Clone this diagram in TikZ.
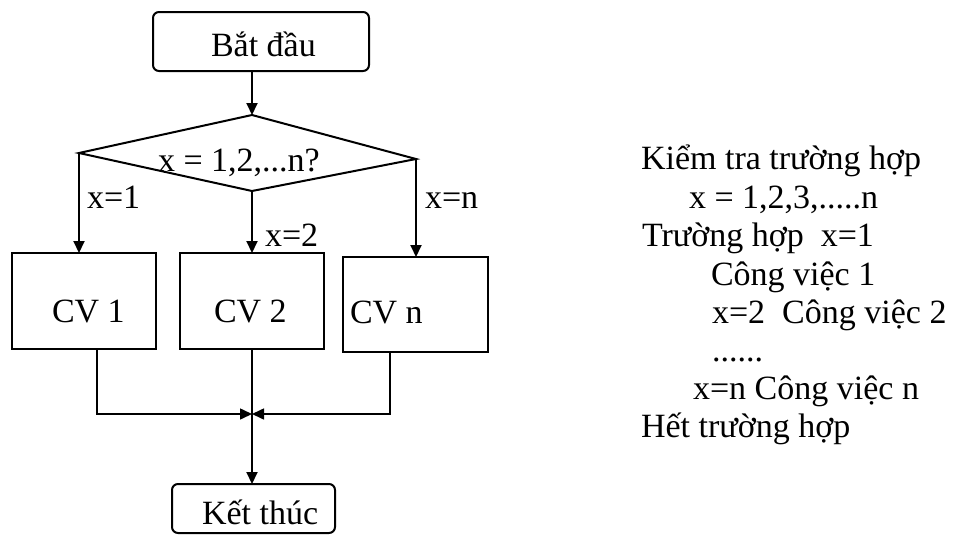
\documentclass[tikz,border=0pt]{standalone}
\usepackage{fontspec}
\setmainfont{Liberation Serif}
\usetikzlibrary{arrows.meta}
\begin{document}
\begin{tikzpicture}[x=1pt,y=-1pt,
  every node/.style={inner sep=0pt, outer sep=0pt, font=\fontsize{34}{40}\selectfont},
  termbox/.style={draw, line width=2pt, rounded corners=6pt},
  workbox/.style={draw, line width=2pt},
  conn/.style={line width=2pt, -{Triangle[length=12pt,width=11pt]}},
  joinline/.style={line width=1.6pt, -{Triangle[length=12pt,width=11pt]}},
  txt/.style={anchor=base west}]
\path[use as bounding box] (0,0) rectangle (954,536);

% terminal and process boxes
\node[termbox, minimum width=216pt, minimum height=59pt] (start) at (261,41.5) {};
\node[workbox, minimum width=144pt, minimum height=96pt] (cv1) at (84,301) {};
\node[workbox, minimum width=144pt, minimum height=96pt] (cv2) at (252,301) {};
\node[workbox, minimum width=145pt, minimum height=95pt] (cvn) at (415.5,304.5) {};
\node[termbox, minimum width=163pt, minimum height=49pt] (end) at (253.5,508.5) {};

% decision diamond
\coordinate (dt) at (252,115);
\coordinate (dl) at (79,153);
\coordinate (dr) at (416,159);
\coordinate (db) at (252,191);
\draw[line width=2pt, line join=miter] (dt) -- (dr) -- (db) -- (dl) -- cycle;

% texts inside the shapes
\node[txt] (tstart) at (211,56) {Bắt đầu};
\node[txt] (tcond) at (158,171) {x = 1,2,...n?};
\node[txt] (tcv1) at (52,322) {CV 1};
\node[txt] (tcv2) at (214,322) {CV 2};
\node[txt] (tcvn) at (350,323) {CV n};
\node[txt] (tend) at (202,524) {Kết thúc};

% branch labels
\node[txt] (l1) at (87,208) {x=1};
\node[txt] (l2) at (265,246) {x=2};
\node[txt] (ln) at (425,208) {x=n};

% connectors
\draw[conn] (dt |- start.south) -- (dt);
\draw[conn] (dl) -- (dl |- cv1.north);
\draw[conn] (db) -- (cv2.north);
\draw[conn] (dr) -- (dr |- cvn.north);
\coordinate (j) at (252,414);
\draw[joinline] ([xshift=13pt]cv1.south) |- (j);
\draw[joinline] ([xshift=-25.5pt]cvn.south) |- (j);
\draw[conn] (cv2.south) -- (cv2.south |- end.north);

% pseudo-code description
\node[txt] (r1) at (641,169) {Kiểm tra trường hợp};
\node[txt] (r2) at (689,208) {x = 1,2,3,.....n};
\node[txt] (r3) at (642,246) {Trường hợp\ \ x=1};
\node[txt] (r4) at (711,285) {Công việc 1};
\node[txt] (r5) at (712,323) {x=2\ \ Công việc 2};
\node[txt] (r6) at (712,361) {......};
\node[txt] (r7) at (693,399) {x=n Công việc n};
\node[txt] (r8) at (641,437) {Hết trường hợp};
\end{tikzpicture}
\end{document}
